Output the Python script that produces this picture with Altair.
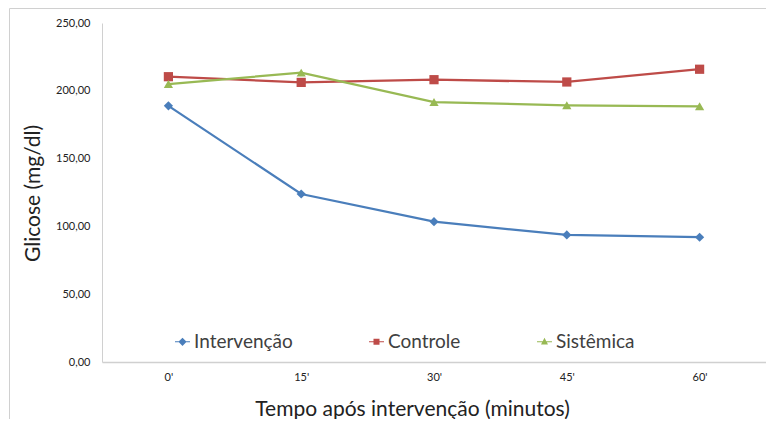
import altair as alt
import pandas as pd

tempos = ["0'", "15'", "30'", "45'", "60'"]
series = ["Intervenção", "Controle", "Sistêmica"]
intervencao = [188.9, 123.9, 103.5, 93.7, 92.0]
controle = [210.4, 206.2, 208.2, 206.5, 215.9]
sistemica = [205.0, 213.4, 191.7, 189.3, 188.6]
y_ticks = [0, 50, 100, 150, 200, 250]

colors = ["#4a7ebb", "#be4b48", "#98b954"]
shapes = ["diamond", "square", "triangle-up"]
legend_paths = [
    "M-1,-0.07H-0.48L0,-0.55L0.48,-0.07H1V0.07H0.48L0,0.55L-0.48,0.07H-1Z",
    "M-1,-0.07H-0.4V-0.4H0.4V-0.07H1V0.07H0.4V0.4H-0.4V0.07H-1Z",
    "M-1,-0.07H-0.24L0,-0.52L0.24,-0.07H1V0.07H0.32L0.46,0.36H-0.46L-0.32,0.07H-1Z",
]

rows = []
for name, vals in zip(series, [intervencao, controle, sistemica]):
    for t, v in zip(tempos, vals):
        rows.append({"tempo": t, "serie": name, "valor": v})
df = pd.DataFrame(rows)

FONT = "Lato"
TXT = "#404040"

x_enc = alt.X("tempo:N", sort=tempos,
              scale=alt.Scale(type="point", padding=0.5),
              axis=alt.Axis(title="Tempo após intervenção (minutos)", labelAngle=0,
                            ticks=False, labelPadding=9, labelFontSize=11,
                            labelFont=FONT, labelColor="#222",
                            domainColor="#d0d0d0", domainWidth=1.5,
                            titleFont=FONT, titleFontSize=21, titleFontWeight="normal",
                            titleColor="#222", titleX=310, titleY=47,
                            titleBaseline="middle", titleAlign="center"))
y_enc = alt.Y("valor:Q", scale=alt.Scale(domain=[0, 250], nice=False),
              axis=alt.Axis(title="Glicose (mg/dl)", values=y_ticks, grid=False,
                            ticks=False, labelPadding=12, labelFontSize=11,
                            labelFont=FONT, labelColor="#222",
                            labelExpr="replace(format(datum.value, '.2f'), '.', ',')",
                            domainColor="#d0d0d0", domainWidth=1,
                            titleFont=FONT, titleFontSize=21, titleFontWeight="normal",
                            titleColor="#222", titleX=-69, titleY=170, titleAngle=-90,
                            titleBaseline="middle", titleAlign="center"))

color_scale = alt.Scale(domain=series, range=colors)

base = alt.Chart(df)

lines = base.mark_line(strokeWidth=2.25).encode(
    x=x_enc, y=y_enc,
    color=alt.Color("serie:N", scale=color_scale, legend=None),
)

points = base.mark_point(filled=True, size=85, opacity=1).encode(
    x="tempo:N", y="valor:Q",
    color=alt.Color("serie:N", scale=color_scale, legend=None),
    shape=alt.Shape("serie:N", scale=alt.Scale(domain=series, range=shapes), legend=None),
)

leg = alt.Legend(title=None, orient="none", legendX=71, legendY=309,
                 direction="horizontal", symbolSize=225, symbolStrokeWidth=0,
                 labelFont=FONT, labelFontSize=19, labelColor=TXT,
                 labelOffset=2, columnPadding=74, labelLimit=300)

legend_layer = base.transform_filter("false").mark_point(filled=True, opacity=1).encode(
    x="tempo:N", y="valor:Q",
    color=alt.Color("serie:N", scale=color_scale, legend=leg),
    shape=alt.Shape("serie:N", scale=alt.Scale(domain=series, range=legend_paths), legend=leg),
)

border = alt.Chart(pd.DataFrame({"a": [0]})).mark_rect(
    fill="transparent", stroke="#d0d0d0", strokeWidth=1
).encode(x=alt.value(-92.5), x2=alt.value(700), y=alt.value(-14.5), y2=alt.value(420))

chart = alt.layer(border, lines, points, legend_layer).resolve_scale(
    color="independent", shape="independent"
).properties(
    width=664, height=339,
    autosize=alt.AutoSizeParams(type="none"),
    padding={"left": 94, "top": 15, "right": 0, "bottom": 57},
    background="white",
).configure_view(stroke=None)

chart.save("out.html", embed_options={"renderer": "svg", "actions": False})
